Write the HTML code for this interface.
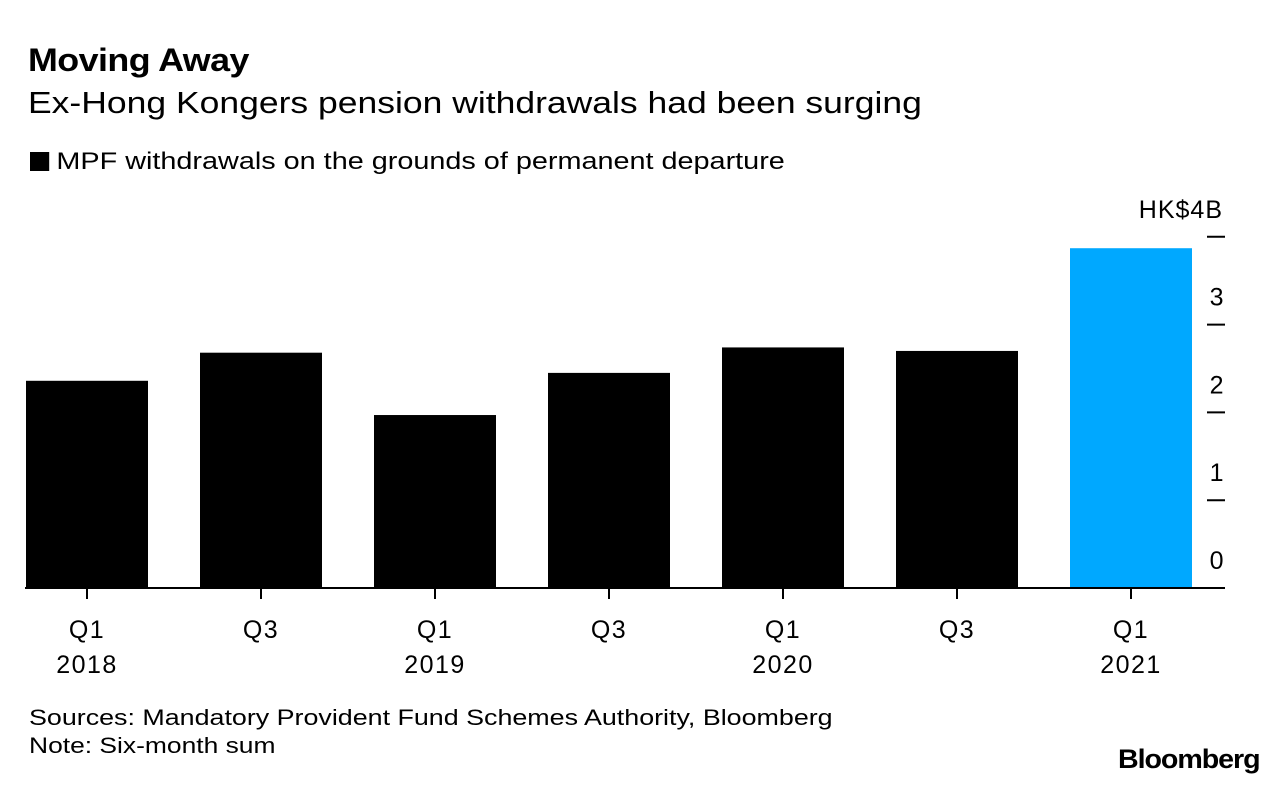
<!DOCTYPE html>
<html><head><meta charset="utf-8"><style>
body{margin:0;width:1286px;height:786px;background:#fff;font-family:"Liberation Sans",Arial,sans-serif;color:#000;position:relative;overflow:hidden}
.t{position:absolute;white-space:nowrap;transform-origin:0 0}
</style></head><body>
<div class="t" style="left:28px;top:42px;font-size:32px;font-weight:bold;letter-spacing:-0.5px;transform:scaleX(1.12)">Moving Away</div>
<div class="t" style="left:28px;top:85px;font-size:31px;transform:scaleX(1.145)">Ex-Hong Kongers pension withdrawals had been surging</div>
<div class="t" style="left:30px;top:148px;font-size:24px;transform:scaleX(1.2)"><span style="display:inline-block;width:16px;height:19px;background:#000;vertical-align:-2px;margin-right:6px"></span>MPF withdrawals on the grounds of permanent departure</div>
<svg id="chart" width="1286" height="786" style="position:absolute;left:0;top:0"></svg>
<div class="t" style="left:29px;top:705px;font-size:22px;transform:scaleX(1.22)">Sources: Mandatory Provident Fund Schemes Authority, Bloomberg</div>
<div class="t" style="left:29px;top:733px;font-size:22px;transform:scaleX(1.2)">Note: Six-month sum</div>
<div class="t" style="left:1118px;top:744px;font-size:27px;font-weight:bold;letter-spacing:-1px;transform:scaleX(1.06)">Bloomberg</div>
<script>
const categories=["Q1","Q3","Q1","Q3","Q1","Q3","Q1"];
const years=["2018","","2019","","2020","","2021"];
const values=[2.36,2.68,1.97,2.45,2.74,2.70,3.87];
const highlight=[false,false,false,false,false,false,true];
const yTicks=[0,1,2,3,4];
const yTickLabels=["0","1","2","3","HK$4B"];
const ns="http://www.w3.org/2000/svg",svg=document.getElementById('chart');
const y0=588,unit=87.8,x0=25,slot=174,bw=122;
const y=v=>y0-v*unit, xc=i=>x0+62+i*slot;
function mk(t,a){const e=document.createElementNS(ns,t);for(const k in a)e.setAttribute(k,a[k]);svg.appendChild(e);return e;}
values.forEach((v,i)=>{
 const r=mk('rect',{x:xc(i)-bw/2,y:y(v),width:bw,height:y0-y(v),fill:highlight[i]?'#00a8ff':'#000'});
 
 
 const tk=mk('line',{x1:xc(i),x2:xc(i),y1:y0,y2:y0+11,stroke:'#000','stroke-width':2});
 
 
 const l=mk('text',{x:xc(i),y:y0+50,'font-size':25,'letter-spacing':1.5,'text-anchor':'middle'});l.textContent=categories[i];
 
 
 if(years[i]){const yl=mk('text',{x:xc(i),y:y0+85,'font-size':25,'letter-spacing':1.5,'text-anchor':'middle'});yl.textContent=years[i];
 
 }
});
const ax=mk('line',{x1:25,x2:1225,y1:y0,y2:y0,stroke:'#000','stroke-width':2});


yTicks.forEach((t,i)=>{
 if(t>0){const tl=mk('line',{x1:1207,x2:1225,y1:y(t),y2:y(t),stroke:'#000','stroke-width':2});
 
 }
 const lb=mk('text',{x:t===4?1223:1225,y:y(t)-19,'font-size':25,'letter-spacing':t===4?1:1.5,'text-anchor':'end'});lb.textContent=yTickLabels[i];
 
 
});
</script>
</body></html>
